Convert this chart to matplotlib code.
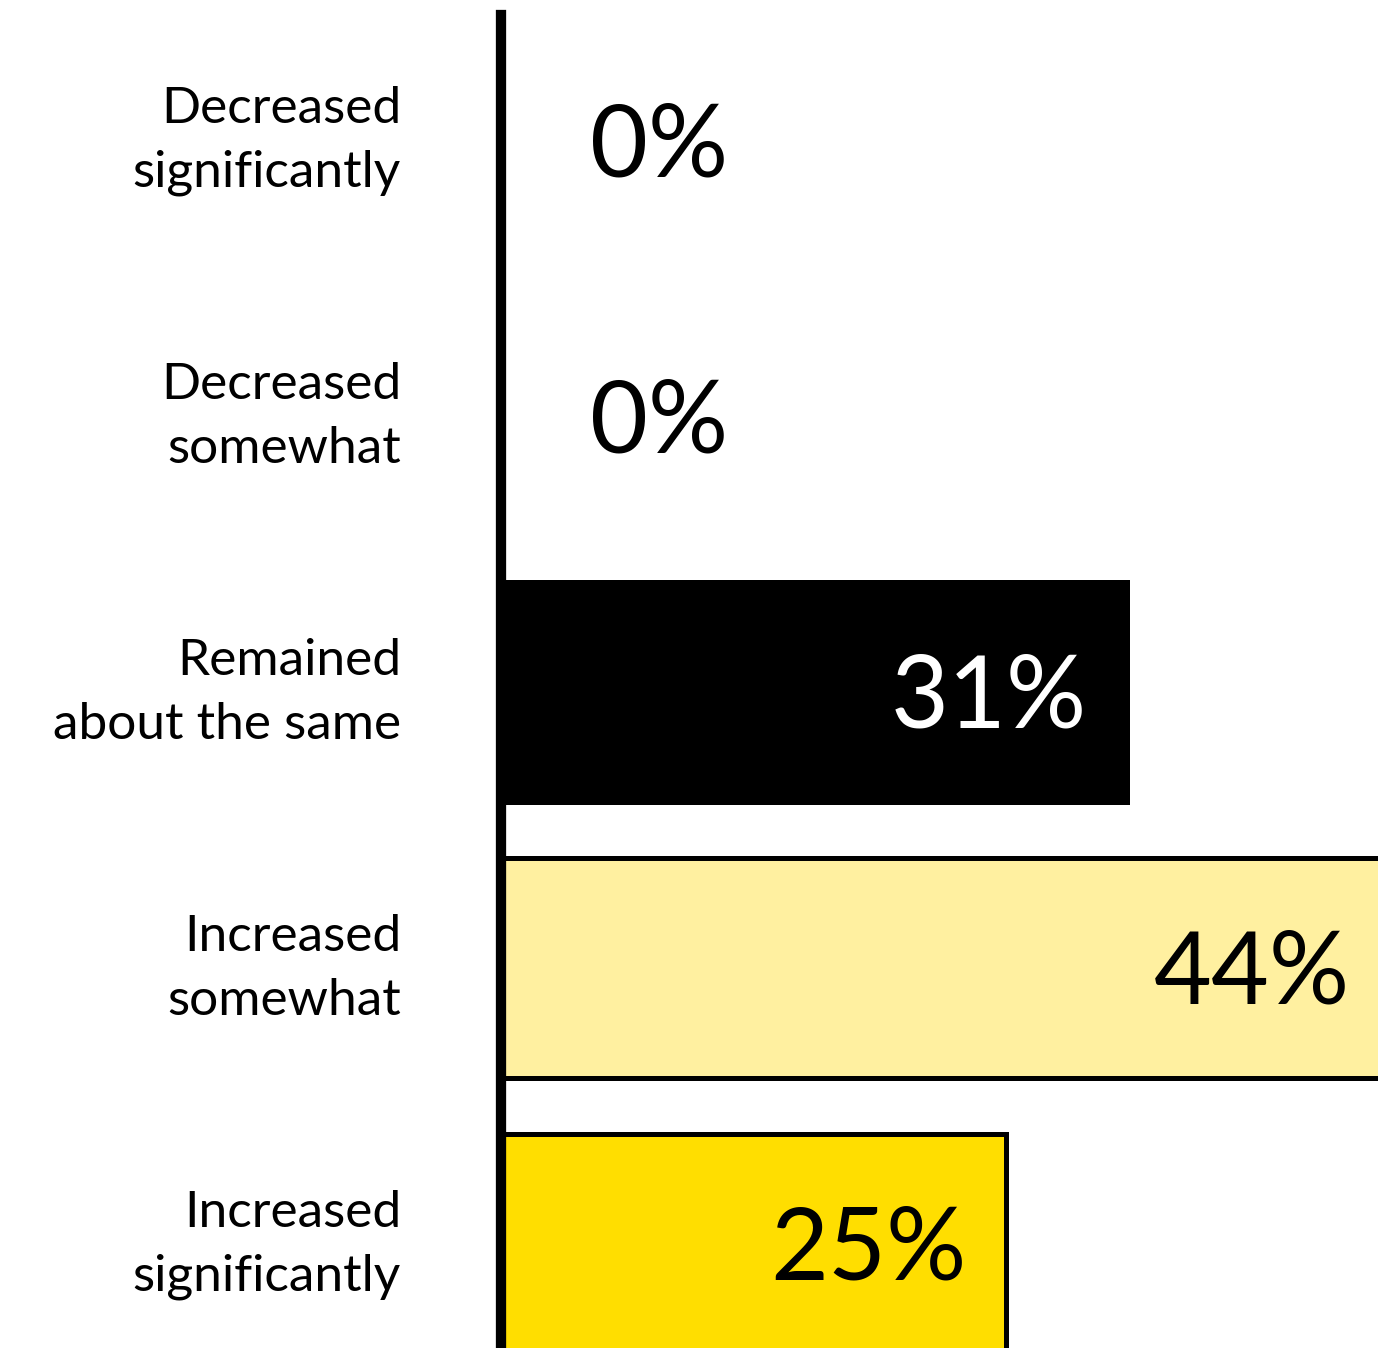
import matplotlib.pyplot as plt

# Dados do gráfico
categorias = ['Decreased\nsignificantly', 'Decreased\nsomewhat', 'Remained\nabout the same',
              'Increased\nsomewhat', 'Increased\nsignificantly']
valores = [0, 0, 31, 44, 25]
rotulos = ['0%', '0%', '31%', '44%', '25%']
cores = ['#ffffff', '#ffffff', '#000000', '#fff0a0', '#ffde00']
cores_texto = ['black', 'black', 'white', 'black', 'black']

plt.rcParams['font.family'] = ['Lato', 'DejaVu Sans']

fig = plt.figure(figsize=(13.78, 13.48), dpi=100)
ax = fig.add_axes([501 / 1378, 0, 1 - 501 / 1378, (1348 - 15) / 1348])

pos = list(range(len(categorias)))
ax.barh(pos, valores, height=0.8, color=cores, edgecolor='black', linewidth=3.6)

ax.set_xlim(0, 877 / 20.2)
ax.set_ylim((1348 - 140) / 276, -(140 - 15) / 276)

for s in ['top', 'right', 'bottom']:
    ax.spines[s].set_visible(False)
ax.spines['left'].set_linewidth(7.4)
ax.spines['left'].set_zorder(5)
ax.set_xticks([])
ax.set_yticks([])

# Rótulos das categorias à esquerda
for i, cat in enumerate(categorias):
    ax.annotate(cat, xy=(0, i), xytext=(-100, -1), textcoords='offset pixels',
                ha='right', va='center', multialignment='right',
                fontsize=37, linespacing=1.47, annotation_clip=False)

# Valores nas barras
for i, v in enumerate(valores):
    if v == 0:
        ax.annotate(rotulos[i], xy=(0, i), xytext=(89, -8), textcoords='offset pixels',
                    ha='left', va='center', fontsize=72, color=cores_texto[i])
    else:
        ax.annotate(rotulos[i], xy=(v, i), xytext=(-40, -7), textcoords='offset pixels',
                    ha='right', va='center', fontsize=72, color=cores_texto[i],
                    annotation_clip=False)

fig.savefig('out.png', dpi=100)
